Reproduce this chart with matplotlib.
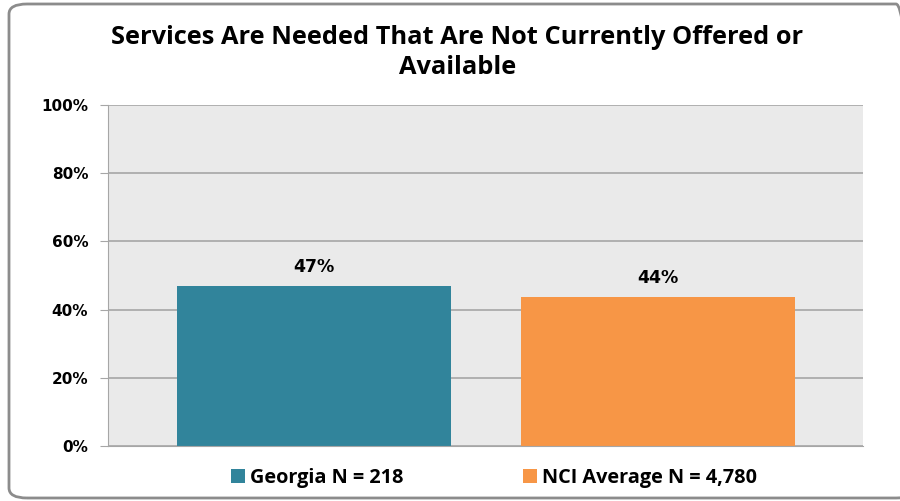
import matplotlib.pyplot as plt
from matplotlib.patches import FancyBboxPatch

# === dados ===
series = ["Georgia N = 218", "NCI Average N = 4,780"]
valores = [46.8, 43.6]
rotulos = ["47%", "44%"]
cores = ["#31849B", "#F79646"]
yticks = [0, 20, 40, 60, 80, 100]

fig = plt.figure(figsize=(9, 5.01), dpi=100)
ax = fig.add_axes([108 / 900, 1 - 446 / 501, 755 / 900, 341 / 501])

# moldura arredondada (lado direito fica fora da imagem)
moldura = FancyBboxPatch((9 / 900, 3 / 501), 905 / 900, 494 / 501,
                         boxstyle="round,pad=0,rounding_size=0.02",
                         transform=fig.transFigure, fill=False,
                         edgecolor="#8C8C8C", linewidth=2, clip_on=False)
fig.patches.append(moldura)

ax.set_facecolor("#EAEAEA")
ax.set_axisbelow(True)
ax.yaxis.grid(True, color="#A6A6A6", linewidth=1.2)

posicoes = range(len(valores))
barras = ax.bar(posicoes, valores, width=0.797, color=cores, label=series, zorder=2)
for b, txt in zip(barras, rotulos):
    ax.text(b.get_x() + b.get_width() / 2, b.get_height() + 3.0, txt,
            ha="center", va="bottom", fontsize=12.5, fontweight="bold",
            family="DejaVu Sans")

ax.set_xlim(-0.598, 1.596)
ax.set_ylim(0, 100)
ax.set_yticks(yticks)
ax.set_yticklabels([f"{v}%" for v in yticks], fontsize=11, fontweight="bold")
ax.set_xticks([])
ax.tick_params(axis="y", length=5.8, color="#A6A6A6", pad=8.5)
for lado in ["top", "right"]:
    ax.spines[lado].set_visible(False)
ax.spines["left"].set_color("#A6A6A6")
ax.spines["bottom"].set_color("#A6A6A6")

fig.text(0.508, 1 - 44 / 501, "Services Are Needed That Are Not Currently Offered or",
         ha="center", va="baseline", fontsize=18.3, fontweight="bold", family="Open Sans")
fig.text(0.508, 1 - 74 / 501, "Available",
         ha="center", va="baseline", fontsize=18.3, fontweight="bold", family="Open Sans")

fig.legend(handles=barras, labels=series, loc="center", bbox_to_anchor=(0.549, 1 - 478 / 501),
           ncol=2, frameon=False, prop={"family": "Open Sans", "weight": "bold", "size": 14.3},
           handlelength=0.7, handleheight=0.7, handletextpad=0.25, columnspacing=6.0)

plt.savefig("out.png", dpi=100)
